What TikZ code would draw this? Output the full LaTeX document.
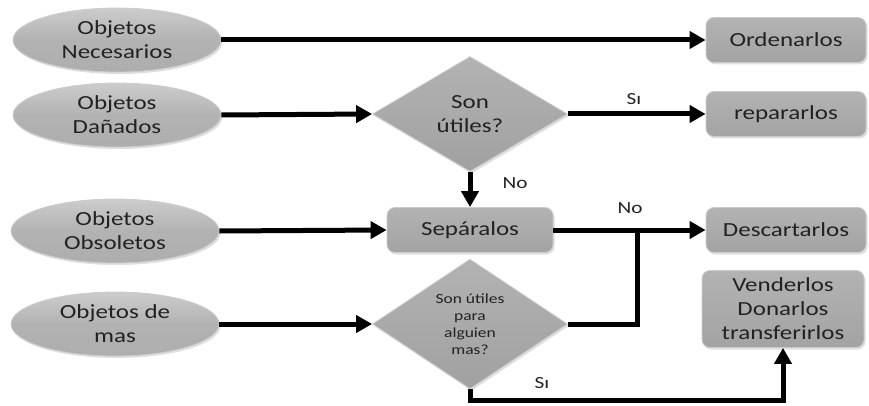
\documentclass[tikz,border=0pt]{standalone}
\usepackage{fontspec}
\setmainfont[FakeStretch=1.25]{Carlito}
\usetikzlibrary{shapes.geometric,arrows.meta,shadows}
\definecolor{txt}{HTML}{222222}
\tikzset{
  base/.style={inner sep=0pt, align=center, text=txt, font=\fontsize{20}{24}\selectfont,
    draw=gray!40, line width=0.8pt,
    drop shadow={opacity=0.25, shadow xshift=1.5pt, shadow yshift=-2pt}},
  source/.style={base, ellipse, minimum width=208pt, minimum height=64pt,
    top color=gray!40, bottom color=gray!64, middle color=gray!60},
  stepbox/.style={base, rectangle, rounded corners=8pt, minimum width=160pt, minimum height=45pt,
    top color=gray!60, bottom color=gray!72},
  decision/.style={base, diamond, minimum width=195pt, minimum height=115pt,
    top color=gray!60, bottom color=gray!74},
  flow/.style={line width=5pt, -{Triangle[length=16pt,width=17pt]}},
  plain/.style={line width=5pt},
  tag/.style={text=txt, font=\fontsize{17}{20}\selectfont, inner sep=0pt}
}
\begin{document}
\begin{tikzpicture}[x=1pt,y=-1pt]
\useasboundingbox (0,0) rectangle (869,406);

% left column: sources
\node[source] (nec) at (117,40)  {Objetos\\Necesarios};
\node[source] (dan) at (117,115) {Objetos\\Dañados};
\node[source] (obs) at (115,231) {Objetos\\Obsoletos};
\node[source] (mas) at (115,324) {Objetos de\\mas};

% middle column: decisions and separation
\node[decision] (util) at (470,114) {Son\\útiles?};
\node[stepbox, minimum width=166pt] (sep) at (470,230) {Sepáralos};
\node[decision, minimum height=118pt, font=\fontsize{14}{17}\selectfont] (alg) at (470,324)
  {Son útiles\\para\\alguien\\mas?};

% right column: outcomes
\node[stepbox] (ord) at (786,40)  {Ordenarlos};
\node[stepbox] (rep) at (786,114) {repararlos};
\node[stepbox] (des) at (786,230) {Descartarlos};
\node[stepbox, minimum width=162pt, minimum height=77pt] (ven) at (783,309)
  {Venderlos\\Donarlos\\transferirlos};

% junction points
\coordinate (jn) at (637,230);
\coordinate (bot) at (470,400);

% connectors
\draw[flow] (nec.east) -- (ord.west);
\draw[flow] (dan.east) -- (util.west);
\draw[flow] (util.east) -- (rep.west);
\draw[flow] (util.south) -- (sep.north);
\draw[flow] (obs.east) -- (sep.west);
\draw[flow] (sep.east) -- (des.west);
\draw[flow] (mas.east) -- (alg.west);
\draw[plain, line join=miter] (alg.east) -| (jn);
\draw[flow, line join=miter] (alg.south) -- (bot) -| (ven.south);

% branch labels
\node[tag] (si1) at (634,99)  {Sı};
\node[tag] (no1) at (515,183) {No};
\node[tag] (no2) at (630,208) {No};
\node[tag] (si2) at (542,383) {Sı};
\end{tikzpicture}
\end{document}
